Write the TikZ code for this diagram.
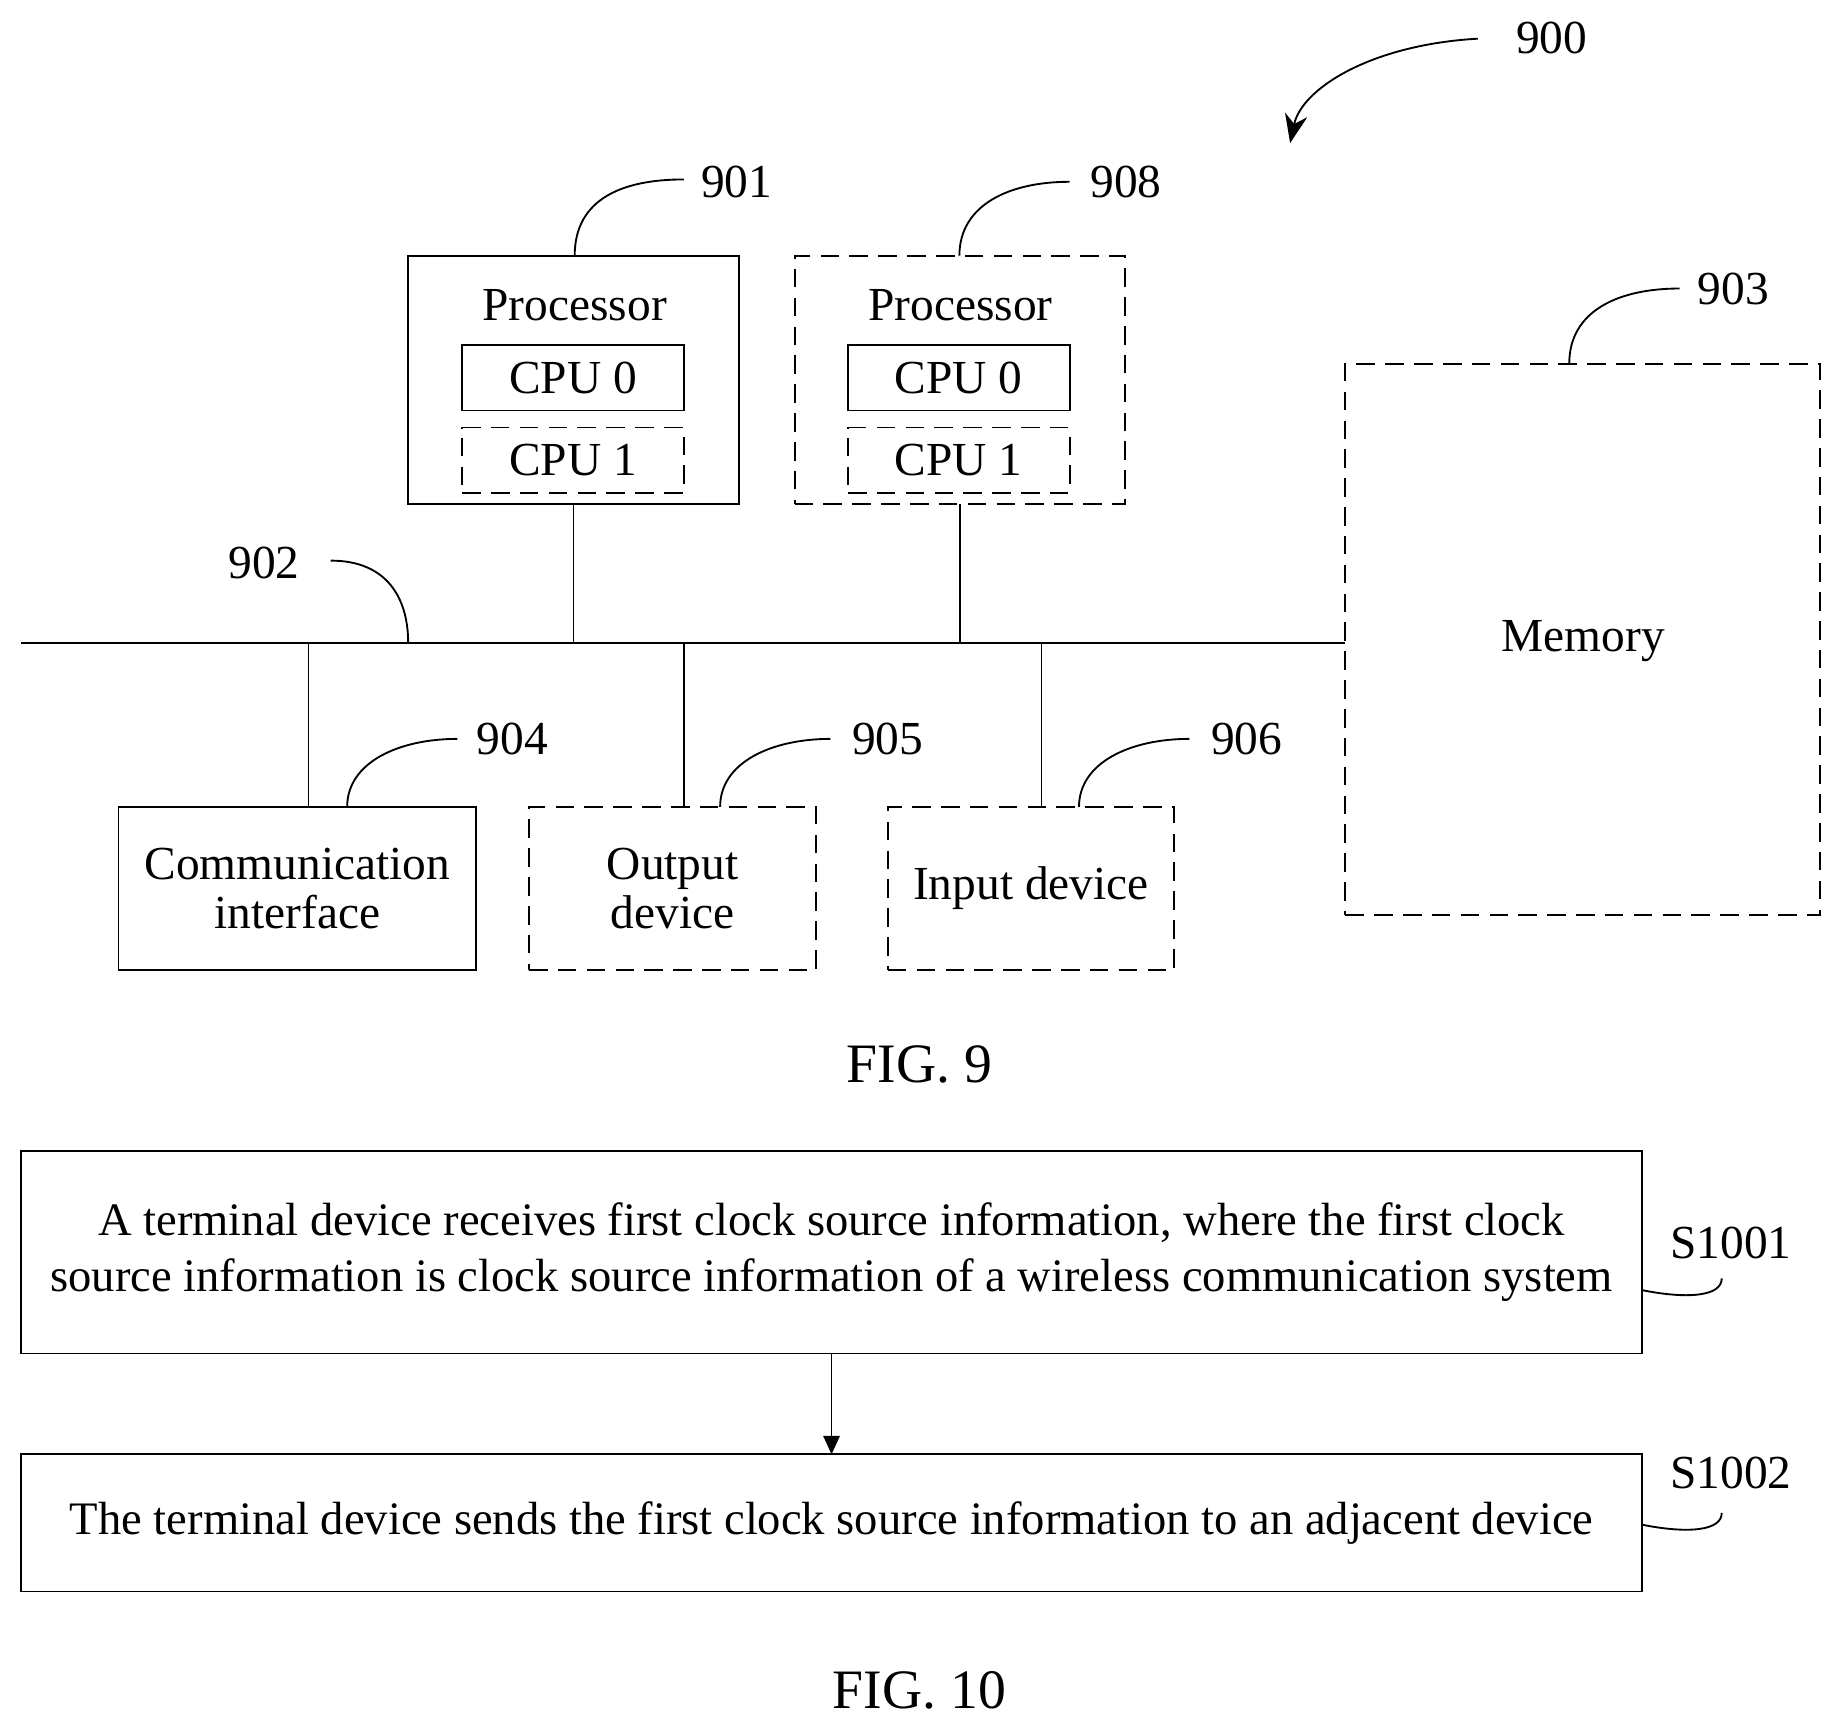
\documentclass[tikz,border=0pt]{standalone}
\usepackage{fontspec}
\setmainfont{Liberation Serif}
\usetikzlibrary{positioning,arrows.meta}
\tikzset{
    base/.style={font=\fontsize{23}{24}\selectfont, align=center},
    box/.style={base, rectangle, draw, line width=0.9pt, inner sep=0pt, outer sep=0pt},
    opt/.style={box, dash pattern=on 9pt off 5pt},
    stepbox/.style={box, font=\fontsize{22.6}{27}\selectfont},
    lead/.style={line width=0.9pt},
    flow/.style={line width=0.9pt, -{Triangle[length=9pt,width=8pt]}}
}
\begin{document}
\begin{tikzpicture}[x=0.02cm, y=-0.02cm]
  \useasboundingbox (0,0) rectangle (1568,1476);
  % FIG. 9: processors
  \node[box, minimum width=5.64cm, minimum height=4.24cm] (proc1) at (489,324) {};
  \node[base] (proc1t) at (490,260) {Processor};
  \node[box, minimum width=3.78cm, minimum height=1.12cm] (cpu10) at (488.5,322) {CPU 0};
  \node[opt, minimum width=3.78cm, minimum height=1.12cm] (cpu11) at (488.5,392.5) {CPU 1};
  \node[opt, minimum width=5.64cm, minimum height=4.24cm] (proc2) at (818.5,324) {};
  \node[base] (proc2t) at (819,260) {Processor};
  \node[box, minimum width=3.78cm, minimum height=1.12cm] (cpu20) at (817.5,322) {CPU 0};
  \node[opt, minimum width=3.78cm, minimum height=1.12cm] (cpu21) at (817.5,392.5) {CPU 1};
  % memory and peripherals
  \node[opt, minimum width=8.1cm, minimum height=9.4cm] (mem) at (1349.5,545) {};
  \node[base] (memt) at (1350,547) {Memory};
  \node[box, minimum width=6.1cm, minimum height=2.78cm] (comm) at (253.5,757.5) {Communication\\interface};
  \node[opt, minimum width=4.9cm, minimum height=2.78cm] (out) at (573.5,757.5) {Output\\device};
  \node[opt, minimum width=4.88cm, minimum height=2.78cm] (in) at (879,757.5) {Input device};
  % bus
  \coordinate (busL) at (18,548);
  \coordinate (busR) at (mem.west |- busL);
  \draw[lead] (busL) -- (busR);
  \draw[lead] (proc1.south) -- (proc1.south |- busL);
  \draw[lead] (proc2.south) -- (proc2.south |- busL);
  \draw[lead] (263,548) -- (263,688);
  \draw[lead] (583,548) -- (583,688);
  \draw[lead] (888,548) -- (888,688);
  % reference numerals
  \node[base] (n900) at (1323,32) {900};
  \node[base] (n901) at (628,155) {901};
  \node[base] (n908) at (960,155) {908};
  \node[base] (n903) at (1478,246) {903};
  \node[base] (n902) at (225,480) {902};
  \node[base] (n904) at (437,630) {904};
  \node[base] (n905) at (757,630) {905};
  \node[base] (n906) at (1063,630) {906};
  \draw[lead, -{Stealth[length=14pt,width=11pt]}] (1260,33) .. controls (1170,38) and (1110,75) .. (1100,122);
  \draw[lead] (490,218) .. controls (490,170) and (530,153) .. (583,153);
  \draw[lead] (818,218) .. controls (818,175) and (860,155) .. (912,155);
  \draw[lead] (1338,310) .. controls (1338,265) and (1380,246) .. (1432,246);
  \draw[lead] (282,478) .. controls (330,478) and (348,510) .. (348,548);
  \draw[lead] (296,688) .. controls (296,650) and (340,630) .. (390,630);
  \draw[lead] (614,688) .. controls (614,650) and (658,630) .. (708,630);
  \draw[lead] (920,688) .. controls (920,650) and (964,630) .. (1014,630);
  \node[base, font=\fontsize{27}{32}\selectfont] (fig9) at (784,908) {FIG. 9};
  % FIG. 10
  \node[stepbox, minimum width=27.64cm, minimum height=3.46cm] (s1) at (709,1067.5) {A terminal device receives first clock source information, where the first clock\\source information is clock source information of a wireless communication system};
  \node[stepbox, minimum width=27.64cm, minimum height=2.34cm] (s2) at (709,1298.5) {The terminal device sends the first clock source information to an adjacent device};
  \draw[flow] (s1) -- (s2);
  \node[base] (l1) at (1476,1060) {S1001};
  \node[base] (l2) at (1476,1256) {S1002};
  \draw[lead] (1400,1100) .. controls (1440,1108) and (1468,1105) .. (1468,1090);
  \draw[lead] (1400,1300) .. controls (1440,1308) and (1468,1305) .. (1468,1290);
  \node[base, font=\fontsize{27}{32}\selectfont] (fig10) at (784,1441) {FIG. 10};
\end{tikzpicture}
\end{document}
